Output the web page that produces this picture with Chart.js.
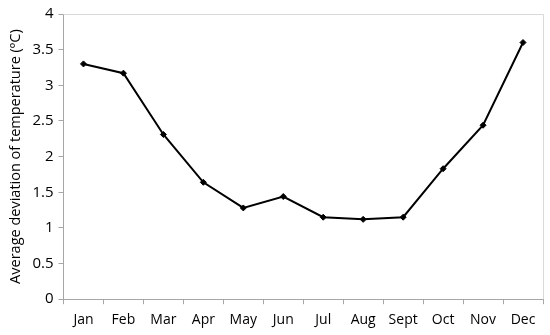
<!DOCTYPE html>
<html>
<head>
<meta charset="utf-8">
<script src="https://cdn.jsdelivr.net/npm/chart.js@4/dist/chart.umd.min.js"></script>
<style>
    html, body { margin: 0; padding: 0; background: #fff; }
    #wrap { width: 550px; height: 335px; }
</style>
</head>
<body>
<div id="wrap"><canvas id="my-chart" width="550" height="335"></canvas></div>
<script>
const months = ['Jan', 'Feb', 'Mar', 'Apr', 'May', 'Jun', 'Jul', 'Aug', 'Sept', 'Oct', 'Nov', 'Dec'];
const avgDeviation = [3.30, 3.17, 2.31, 1.64, 1.28, 1.44, 1.15, 1.12, 1.15, 1.83, 2.44, 3.60];
const yTicks = [0, 0.5, 1, 1.5, 2, 2.5, 3, 3.5, 4];

const fontFamily = '"Open Sans", "Liberation Sans", sans-serif';
const axisGray = '#a6a6a6';

// thin light frame round the plot area (top and right edges)
const plotFrame = {
    id: 'plotFrame',
    beforeDatasetsDraw(chart) {
        const { ctx, chartArea } = chart;
        ctx.save();
        ctx.strokeStyle = '#d9d9d9';
        ctx.lineWidth = 1;
        ctx.beginPath();
        ctx.moveTo(chartArea.left, chartArea.top + 0.5);
        ctx.lineTo(chartArea.right + 0.5, chartArea.top + 0.5);
        ctx.lineTo(chartArea.right + 0.5, chartArea.bottom);
        ctx.stroke();
        ctx.restore();
    }
};

const ctx = document.getElementById('my-chart').getContext('2d');
new Chart(ctx, {
    type: 'line',
    data: {
        labels: months,
        datasets: [{
            data: avgDeviation,
            borderColor: '#000',
            backgroundColor: '#000',
            borderWidth: 2,
            pointStyle: 'rectRot',
            pointRadius: 3,
            pointBorderWidth: 1,
            fill: false,
            tension: 0
        }]
    },
    options: {
        responsive: false,
        animation: false,
        layout: { padding: { left: 7, right: 7, top: 0, bottom: 0 } },
        plugins: {
            legend: { display: false },
            tooltip: { enabled: false }
        },
        scales: {
            x: {
                offset: true,
                grid: {
                    offset: true,
                    drawOnChartArea: false,
                    drawTicks: true,
                    tickLength: 5,
                    color: axisGray
                },
                border: { color: axisGray, width: 1 },
                ticks: {
                    color: '#000',
                    padding: 7,
                    maxRotation: 0,
                    font: { family: fontFamily, size: 14 }
                }
            },
            y: {
                min: 0,
                max: 4,
                afterBuildTicks: axis => {
                    axis.ticks = yTicks.map(v => ({ value: v }));
                },
                grid: {
                    drawOnChartArea: false,
                    drawTicks: true,
                    tickLength: 5,
                    color: axisGray
                },
                border: { color: axisGray, width: 1 },
                ticks: {
                    color: '#000',
                    padding: 5,
                    callback: v => String(v),
                    font: { family: fontFamily, size: 15 }
                },
                title: {
                    display: true,
                    text: 'Average deviation of temperature (ºC)',
                    color: '#000',
                    padding: { top: 0, bottom: 3 },
                    font: { family: fontFamily, size: 14.5 }
                }
            }
        }
    },
    plugins: [plotFrame]
});
</script>
</body>
</html>
